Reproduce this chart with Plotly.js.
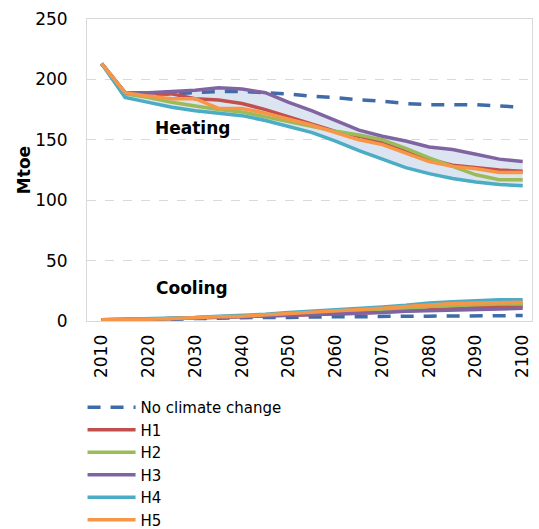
<!DOCTYPE html>
<html>
<head>
<meta charset="utf-8">
<script src="https://cdn.plot.ly/plotly-3.0.1.min.js"></script>
<style>html,body{margin:0;padding:0;background:#fff;}#chart{width:539px;height:529px;}</style>
</head>
<body>
<div id="chart"></div>
<script>
// Years (every 5 years)
const years = [2010,2015,2020,2025,2030,2035,2040,2045,2050,2055,2060,2065,2070,2075,2080,2085,2090,2095,2100];
const tickYears = [2010,2020,2030,2040,2050,2060,2070,2080,2090,2100];
const tickLabels = ["2010","2020","2030","2040","2050","2060","2070","2080","2090","2100"];

// Heating (Mtoe)
const heatNoCC = [213,188,188,188,189,190,190,189,188,186,185,183,182,180,179,179,179,178,177];
const heatH1   = [213,189,189,188,184,183,180,175,169,163,157,153,148,141,134,129,127,125,124];
const heatH2   = [213,188,185,181,178,175,173,169,165,161,157,154,150,143,135,128,121,117,117];
const heatH3   = [213,189,189,190,191,193,192,189,181,174,166,158,153,149,144,142,138,134,132];
const heatH4   = [213,185,181,177,174,172,170,166,161,156,149,141,134,127,122,118,115,113,112];
const heatH5   = [213,189,186,184,184,176,176,172,167,162,156,150,146,139,132,128,126,123,123];

// Cooling (Mtoe)
const coolNoCC = [1,1,1,1.5,2,2.5,2.5,3,3,3.5,3.5,3.5,4,4,4,4,4,4.5,4.5];
const coolH1   = [1,1,1.5,2,2.5,3,3.5,4,4.5,5,5.5,6.5,7.5,8.5,9.5,10.5,11.5,12,12.5];
const coolH2   = [1,1,1.5,2,3,3.5,4,5,6,6.5,7,8,9,10.5,12,13,13.5,14,14];
const coolH3   = [1,1,1.5,2,2.5,3,3.5,4,4.5,5,5.5,6,7,8,8.5,9,9.5,10,10.5];
const coolH4   = [1,1.5,1.5,2.5,3,4,4.5,5.5,7,8,9,10,11.5,13,15,16,17,17.5,17.5];
const coolH5   = [1,1,1.5,2,3,3.5,4,5,6,7,8,9,10.5,12,13.5,14.5,15,15.5,15.5];

const names = ["No climate change","H1","H2","H3","H4","H5"];
const colors = ["#3f6ca8","#c0504d","#9bbb59","#8064a2","#4bacc6","#f79646"];

const heatH = [heatH1,heatH2,heatH3,heatH4,heatH5];
const coolH = [coolH1,coolH2,coolH3,coolH4,coolH5];
const minOf = arrs => years.map((_,i)=>Math.min(...arrs.map(a=>a[i])));
const maxOf = arrs => years.map((_,i)=>Math.max(...arrs.map(a=>a[i])));

const bandColor = "rgb(220,228,241)";
const traces = [];
// bands
[[heatH],[coolH]].forEach(([grp])=>{
  traces.push({x:years,y:minOf(grp),type:"scatter",mode:"lines",line:{width:0,color:bandColor},showlegend:false,hoverinfo:"skip"});
  traces.push({x:years,y:maxOf(grp),type:"scatter",mode:"lines",line:{width:0,color:bandColor},fill:"tonexty",fillcolor:bandColor,showlegend:false,hoverinfo:"skip"});
});
// lines
const heatAll = [heatNoCC,heatH1,heatH2,heatH3,heatH4,heatH5];
const coolAll = [coolNoCC,coolH1,coolH2,coolH3,coolH4,coolH5];
names.forEach((n,k)=>{
  const ln = {color:colors[k],width:3.5};
  if(k===0) ln.dash = "13px,10px";
  traces.push({x:years,y:heatAll[k],type:"scatter",mode:"lines",name:n,line:ln,legendgroup:n,showlegend:true});
  traces.push({x:years,y:coolAll[k],type:"scatter",mode:"lines",name:n,line:ln,legendgroup:n,showlegend:false});
});

const fam = "DejaVu Sans, Verdana, sans-serif";
const font = {family:fam,size:17,color:"#000"};
const layout = {
  width:539,height:529,
  margin:{l:87,r:7,t:19,b:208,autoexpand:false},
  paper_bgcolor:"#fff",plot_bgcolor:"#fff",
  font:font,
  showlegend:true,
  legend:{x:-0.01,xanchor:"left",y:-0.232,yanchor:"top",orientation:"v",itemwidth:48,
          font:{family:fam,size:15,color:"#000"},tracegroupgap:0,bgcolor:"rgba(0,0,0,0)"},
  xaxis:{range:[2006.86,2101.99],tickmode:"array",tickvals:tickYears,ticktext:tickLabels,tickangle:-90,
         showgrid:false,zeroline:false,showline:true,linecolor:"#d9d9d9",linewidth:1,mirror:true,
         ticks:"outside",ticklen:6,tickcolor:"rgba(0,0,0,0)",tickfont:font},
  yaxis:{range:[0,250],tickvals:[0,50,100,150,200,250],showgrid:true,gridcolor:"#d9d9d9",griddash:"dash",gridwidth:1,
         zeroline:false,showline:true,linecolor:"#d9d9d9",linewidth:1,mirror:true,
         ticks:"outside",ticklen:15,tickcolor:"rgba(0,0,0,0)",tickfont:font,
         title:{text:"<b>Mtoe</b>",font:{family:fam,size:17,color:"#000"},standoff:0}},
  annotations:[
    {x:2029.5,y:160,xref:"x",yref:"y",text:"<b>Heating</b>",showarrow:false,font:{family:fam,size:17,color:"#000"}},
    {x:2029.4,y:27.3,xref:"x",yref:"y",text:"<b>Cooling</b>",showarrow:false,font:{family:fam,size:17,color:"#000"}}
  ]
};
Plotly.newPlot("chart",traces,layout,{displayModeBar:false,staticPlot:true});
</script>
</body>
</html>
